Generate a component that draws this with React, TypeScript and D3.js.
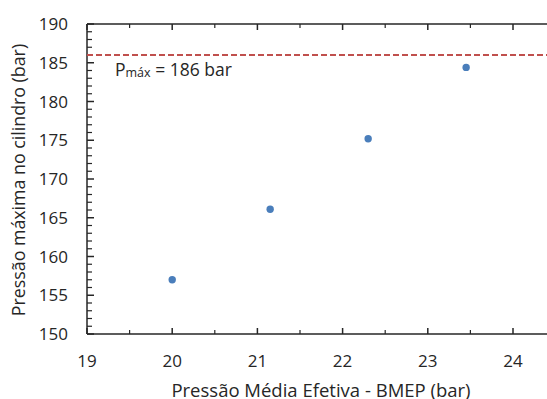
import React from "react";
import * as d3 from "d3";

const bmep = [20.0, 21.15, 22.3, 23.45];
const pmax = [157.0, 166.1, 175.2, 184.4];
const xTicks = [19, 20, 21, 22, 23, 24];
const yTicks = [150, 155, 160, 165, 170, 175, 180, 185, 190];
const limitValue = 186;
const xTitle = "Pressão Média Efetiva - BMEP (bar)";
const yTitle = "Pressão máxima no cilindro (bar)";

const W = 547;
const H = 399;
const FONT = "'Open Sans', Calibri, Carlito, sans-serif";

export default function App() {
  const x = d3.scaleLinear().domain([19, 25]).range([87, 87 + 6 * 85.2]);
  const y = d3.scaleLinear().domain([150, 190]).range([334, 24]);
  const [x0] = x.range();
  const [yb, yt] = y.range();
  const xMinor = d3.range(19, 25.01, 0.5).filter((v) => !xTicks.includes(v));
  const yMinor = d3.range(150, 190.01, 1).filter((v) => v % 5 !== 0);
  const ink = "#262626";
  return (
    <svg
      width={W}
      height={H}
      style={{ position: "absolute", left: 0, top: 0, background: "#fff" }}
      fontFamily={FONT}
    >
      <rect width={W} height={H} fill="#fff" />
      {/* axes lines */}
      <line x1={x0} x2={W} y1={yb} y2={yb} stroke={ink} strokeWidth={1.5} />
      <line x1={x0} x2={W} y1={yt} y2={yt} stroke={ink} strokeWidth={1.5} />
      <line x1={x0} x2={x0} y1={yt} y2={yb} stroke={ink} strokeWidth={1.5} />
      {/* x ticks */}
      {[...xTicks, 25].map((v) => (
        <g key={"xt" + v}>
          <line x1={x(v)} x2={x(v)} y1={yb} y2={yb - 6} stroke={ink} strokeWidth={1.5} />
          <line x1={x(v)} x2={x(v)} y1={yt} y2={yt + 6} stroke={ink} strokeWidth={1.5} />
        </g>
      ))}
      {xMinor.map((v) => (
        <g key={"xm" + v}>
          <line x1={x(v)} x2={x(v)} y1={yb} y2={yb - 4} stroke={ink} strokeWidth={1.2} />
          <line x1={x(v)} x2={x(v)} y1={yt} y2={yt + 4} stroke={ink} strokeWidth={1.2} />
        </g>
      ))}
      {xTicks.map((v) => (
        <text key={"xl" + v} x={x(v)} y={367} textAnchor="middle" fontSize={17} fill={ink}>
          {v}
        </text>
      ))}
      {/* y ticks */}
      {yTicks.map((v) => (
        <g key={"yt" + v}>
          <line x1={x0} x2={x0 + 7} y1={y(v)} y2={y(v)} stroke={ink} strokeWidth={1.5} />
          <text x={68} y={y(v) + 6} textAnchor="end" fontSize={17} fill={ink}>
            {v}
          </text>
        </g>
      ))}
      {yMinor.map((v) => (
        <line key={"ym" + v} x1={x0} x2={x0 + 5} y1={y(v)} y2={y(v)} stroke={ink} strokeWidth={1.2} />
      ))}
      {/* limit line */}
      <line
        x1={x0}
        x2={W}
        y1={y(limitValue)}
        y2={y(limitValue)}
        stroke="#C0504D"
        strokeWidth={2}
        strokeDasharray="6,3"
      />
      <text x={115} y={76} fontSize={17.5} fill={ink}>
        P<tspan fontSize={12.5} dy={1}>máx</tspan>
        <tspan dy={-1}> = {limitValue} bar</tspan>
      </text>
      {/* points */}
      {bmep.map((v, i) => (
        <circle key={"p" + i} cx={x(v)} cy={y(pmax[i])} r={3.7} fill="#4A7EBB" />
      ))}
      {/* titles */}
      <text x={321} y={396.5} textAnchor="middle" fontSize={18.5} fill={ink}>
        {xTitle}
      </text>
      <text
        transform={`translate(25, ${(yb + yt) / 2 + 1}) rotate(-90)`}
        textAnchor="middle"
        fontSize={17.8}
        fill={ink}
      >
        {yTitle}
      </text>
    </svg>
  );
}
